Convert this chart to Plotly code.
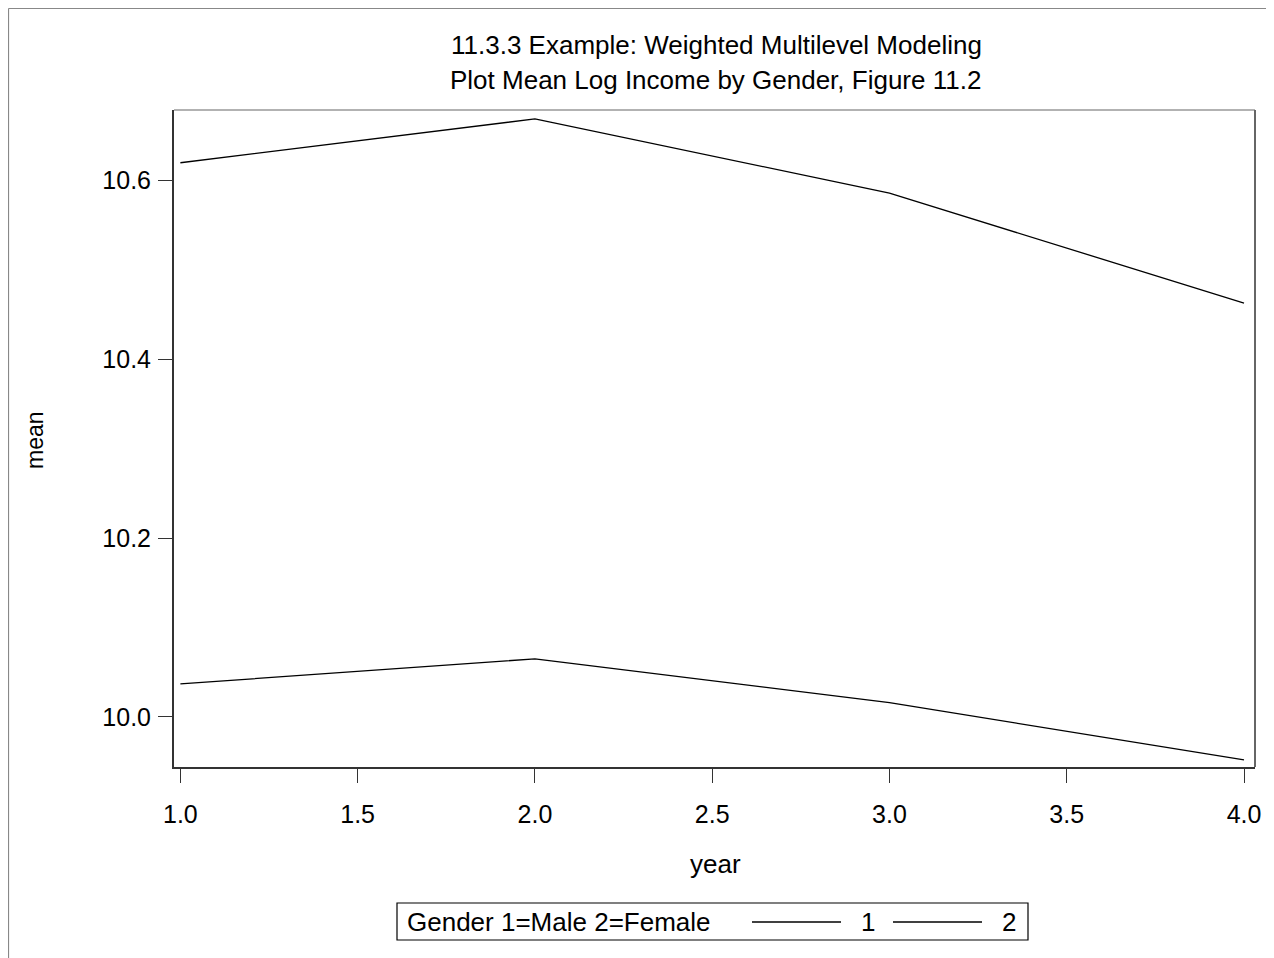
import plotly.graph_objects as go

years = [1, 2, 3, 4]
male_mean = [10.620, 10.669, 10.586, 10.463]
female_mean = [10.037, 10.065, 10.016, 9.952]
x_ticks = [1.0, 1.5, 2.0, 2.5, 3.0, 3.5, 4.0]
y_ticks = [10.0, 10.2, 10.4, 10.6]
title1 = "11.3.3 Example: Weighted Multilevel Modeling"
title2 = "Plot Mean Log Income by Gender, Figure 11.2"
legend_title = "Gender 1=Male 2=Female"
legend_labels = ["1", "2"]

FONT = "Liberation Sans, Arial, sans-serif"
W, H = 1274, 958
# page has an 8px body margin; plot area in page coords is x 174..1255, y 110..767
OFF = 8
PL, PR, PT, PB = 174, 1255, 110, 767
L, T = PL - OFF, PT - OFF
R, B = W - (PR - OFF), H - (PB - OFF)
pw, ph = PR - PL, PB - PT

def px(x):
    return (x - PL) / pw

def py(y):
    return (PB - y) / ph

fig = go.Figure()
fig.add_trace(go.Scatter(x=years, y=male_mean, mode="lines", name=legend_labels[0],
                         line=dict(color="black", width=1.3), showlegend=False))
fig.add_trace(go.Scatter(x=years, y=female_mean, mode="lines", name=legend_labels[1],
                         line=dict(color="black", width=1.3), showlegend=False))

fig.update_layout(
    width=W, height=H,
    margin=dict(l=L, r=R, t=T, b=B, autoexpand=False),
    paper_bgcolor="white", plot_bgcolor="white",
    font=dict(family=FONT, size=24, color="black"),
    showlegend=False,
)
fig.update_xaxes(range=[0.982, 4.031], tickvals=x_ticks, ticktext=[f"{v:.1f}" for v in x_ticks],
                 showgrid=False, zeroline=False, showline=True, linecolor="#333333", linewidth=2,
                 ticks="outside", ticklen=14, tickwidth=1, tickcolor="#333333",
                 ticklabelstandoff=10, tickfont=dict(size=25))
fig.update_yaxes(range=[9.944, 10.679], tickvals=y_ticks, ticktext=[f"{v:.1f}" for v in y_ticks],
                 showgrid=False, zeroline=False, showline=True, linecolor="#333333", linewidth=2,
                 ticks="outside", ticklen=14, tickwidth=1, tickcolor="#333333",
                 ticklabelstandoff=2, tickfont=dict(size=25))

LEG_TOP, LEG_BOT, LEG_MID = 903, 940, 922

shapes = [
    # top and right border of plot area
    dict(type="line", xref="paper", yref="paper", x0=0, x1=1, y0=1, y1=1,
         line=dict(color="#999999", width=1.5)),
    dict(type="line", xref="paper", yref="paper", x0=1, x1=1, y0=0, y1=1,
         line=dict(color="#666666", width=2)),
    # outer frame (top and left edges of the page)
    dict(type="line", xref="paper", yref="paper", x0=px(OFF + 0.5), x1=px(W + 20), y0=py(OFF + 0.5), y1=py(OFF + 0.5),
         line=dict(color="#888888", width=1.2)),
    dict(type="line", xref="paper", yref="paper", x0=px(OFF + 0.5), x1=px(OFF + 0.5), y0=py(OFF + 0.5), y1=py(H + 20),
         line=dict(color="#888888", width=1.2)),
    # legend box
    dict(type="rect", xref="paper", yref="paper", x0=px(397), x1=px(1028), y0=py(LEG_TOP), y1=py(LEG_BOT),
         line=dict(color="black", width=1.2), fillcolor="rgba(0,0,0,0)"),
    # legend line samples
    dict(type="line", xref="paper", yref="paper", x0=px(752), x1=px(841), y0=py(LEG_MID), y1=py(LEG_MID),
         line=dict(color="black", width=1.3)),
    dict(type="line", xref="paper", yref="paper", x0=px(893), x1=px(982), y0=py(LEG_MID), y1=py(LEG_MID),
         line=dict(color="black", width=1.3)),
]

annotations = [
    dict(text=title1, x=px(716), y=py(45), xref="paper", yref="paper", showarrow=False,
         xanchor="center", yanchor="middle", font=dict(size=26)),
    dict(text=title2, x=px(715), y=py(80), xref="paper", yref="paper", showarrow=False,
         xanchor="center", yanchor="middle", font=dict(size=26)),
    dict(text="year", x=px(715), y=py(864), xref="paper", yref="paper", showarrow=False,
         xanchor="center", yanchor="middle", font=dict(size=26)),
    dict(text="mean", x=px(35), y=py(440), xref="paper", yref="paper", showarrow=False,
         textangle=-90, xanchor="center", yanchor="middle", font=dict(size=23)),
    dict(text=legend_title, x=px(405), y=py(LEG_MID), xref="paper", yref="paper", showarrow=False,
         xanchor="left", yanchor="middle", font=dict(size=26)),
    dict(text=legend_labels[0], x=px(868), y=py(LEG_MID), xref="paper", yref="paper", showarrow=False,
         xanchor="center", yanchor="middle", font=dict(size=26)),
    dict(text=legend_labels[1], x=px(1009), y=py(LEG_MID), xref="paper", yref="paper", showarrow=False,
         xanchor="center", yanchor="middle", font=dict(size=26)),
]
fig.update_layout(shapes=shapes, annotations=annotations)

fig.write_html("out.html")
